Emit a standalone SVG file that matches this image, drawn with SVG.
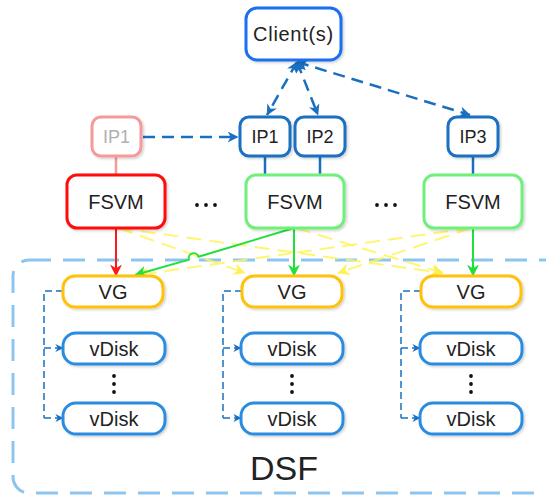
<svg xmlns="http://www.w3.org/2000/svg" width="546" height="497" viewBox="0 0 546 497">
<style>
  .t{font-family:"Liberation Sans",Arial,sans-serif;font-size:20px;fill:#222;text-anchor:middle}
  .box{fill:#fff;stroke-width:3;filter:url(#sh)}
  .blue{stroke:#1a6fc0}
  .vg{stroke:#ffc107}
  .vd{stroke:#2b8ce0}
  .gr{stroke:#6ff07a}
  .dash{fill:none;stroke:#1a6fc0;stroke-width:2.5;stroke-dasharray:12 7}
  .vdl{fill:none;stroke:#1a6fc0;stroke-width:1.5;stroke-dasharray:7 4}
  .yl{fill:none;stroke:#fff35a;stroke-opacity:.85;stroke-width:2;stroke-dasharray:15 8}
  .dot{fill:#111}
</style>
<defs>
  <filter id="sh" x="-10%" y="-10%" width="130%" height="140%">
    <feDropShadow dx="1.5" dy="1.5" stdDeviation="1" flood-color="#000" flood-opacity="0.18"/>
  </filter>
  <marker id="ab" viewBox="0 0 10 10" refX="9.5" refY="5" markerWidth="11" markerHeight="11" orient="auto-start-reverse" markerUnits="userSpaceOnUse"><path d="M0,0 L10,5 L0,10 L3,5z" fill="#1a6fc0"/></marker>
  <marker id="as" viewBox="0 0 10 10" refX="9.5" refY="5" markerWidth="8" markerHeight="8" orient="auto" markerUnits="userSpaceOnUse"><path d="M0,0 L10,5 L0,10 L3,5z" fill="#1a6fc0"/></marker>
  <marker id="ar" viewBox="0 0 10 10" refX="9.5" refY="5" markerWidth="12" markerHeight="12" orient="auto" markerUnits="userSpaceOnUse"><path d="M0,0 L10,5 L0,10 L3,5z" fill="#ff1a1a"/></marker>
  <marker id="ag" viewBox="0 0 10 10" refX="9.5" refY="5" markerWidth="12" markerHeight="12" orient="auto" markerUnits="userSpaceOnUse"><path d="M0,0 L10,5 L0,10 L3,5z" fill="#22e03a"/></marker>
  <marker id="ay" viewBox="0 0 10 10" refX="9.5" refY="5" markerWidth="12" markerHeight="12" orient="auto" markerUnits="userSpaceOnUse"><path d="M0,0 L10,5 L0,10 L3,5z" fill="#fff04a" fill-opacity=".9"/></marker>
</defs>

<g id="dsf">
  <rect x="13" y="260" width="550" height="233" rx="16" fill="none" stroke="#8ec5ef" stroke-width="3" stroke-dasharray="22 12"/>
  <text x="284" y="480" class="t" style="font-size:34px">DSF</text>
</g>

<g id="connectors">
  <line x1="297" y1="62" x2="267" y2="115" class="dash" marker-start="url(#ab)" marker-end="url(#ab)"/>
  <line x1="297" y1="62" x2="318" y2="115" class="dash" marker-start="url(#ab)" marker-end="url(#ab)"/>
  <line x1="297" y1="62" x2="470" y2="115" class="dash" marker-start="url(#ab)" marker-end="url(#ab)"/>
  <line x1="143" y1="137" x2="238" y2="137" class="dash" marker-end="url(#ab)"/>
  <line x1="116" y1="157" x2="116" y2="175" stroke="#f59a9a" stroke-width="2.5"/>
  <line x1="265" y1="156" x2="265" y2="175" stroke="#1a6fc0" stroke-width="2.5"/>
  <line x1="320" y1="156" x2="320" y2="175" stroke="#1a6fc0" stroke-width="2.5"/>
  <line x1="473" y1="156" x2="473" y2="175" stroke="#1a6fc0" stroke-width="2.5"/>
  <path d="M118,228 L245,273" class="yl" marker-end="url(#ay)"/>
  <path d="M118,228 L443,273" class="yl" marker-end="url(#ay)"/>
  <path d="M296,228 L443,273" class="yl" marker-end="url(#ay)"/>
  <path d="M471,228 L338,273" class="yl" marker-end="url(#ay)"/>
  <path d="M471,228 L298,252.4 A4,4 0 0 0 290,253.5 L137,275" class="yl" marker-end="url(#ay)"/>
  <line x1="116" y1="228" x2="116" y2="276" stroke="#ff1a1a" stroke-width="2" marker-end="url(#ar)"/>
  <line x1="294" y1="228" x2="294" y2="276" stroke="#22e03a" stroke-width="2" marker-end="url(#ag)"/>
  <line x1="473" y1="228" x2="473" y2="276" stroke="#22e03a" stroke-width="2" marker-end="url(#ag)"/>
  <path d="M294,228 L198.5,256.8 A5,5 0 0 0 188.9,259.6 L135,275" fill="none" stroke="#22e03a" stroke-width="2" marker-end="url(#ag)"/>
  <path d="M63,291 H44 V418" class="vdl"/>
  <path d="M44,348 H63" class="vdl" marker-end="url(#as)"/>
  <path d="M44,418 H63" class="vdl" marker-end="url(#as)"/>
  <path d="M242,291 H223 V418" class="vdl"/>
  <path d="M223,348 H241" class="vdl" marker-end="url(#as)"/>
  <path d="M223,418 H241" class="vdl" marker-end="url(#as)"/>
  <path d="M421,291 H401 V418" class="vdl"/>
  <path d="M401,348 H420" class="vdl" marker-end="url(#as)"/>
  <path d="M401,418 H420" class="vdl" marker-end="url(#as)"/>
</g>

<g id="client">
  <rect x="246" y="8" width="95" height="52" rx="11" class="box" stroke="#1a6ff0"/>
  <text x="293.5" y="41" class="t" style="letter-spacing:0.7px">Client(s)</text>
</g>

<g id="ip1-old">
  <rect x="92" y="117" width="49" height="39" rx="9" class="box" stroke="#f59a9a"/>
  <text x="116.5" y="143" class="t" style="font-size:18px;fill:#b0b0b0">IP1</text>
</g>
<g id="ip1">
  <rect x="240" y="117" width="50" height="39" rx="9" class="box blue"/>
  <text x="265" y="143" class="t" style="font-size:18px">IP1</text>
</g>
<g id="ip2">
  <rect x="295" y="117" width="50" height="39" rx="9" class="box blue"/>
  <text x="320" y="143" class="t" style="font-size:18px">IP2</text>
</g>
<g id="ip3">
  <rect x="448" y="117" width="50" height="39" rx="9" class="box blue"/>
  <text x="473" y="143" class="t" style="font-size:18px">IP3</text>
</g>

<g id="fsvm1">
  <rect x="67" y="175" width="98" height="53" rx="10" class="box" stroke="#ff0d0d"/>
  <text x="116" y="208.5" class="t">FSVM</text>
</g>
<g id="fsvm2">
  <rect x="246" y="175" width="98" height="53" rx="10" class="box gr"/>
  <text x="295" y="208.5" class="t">FSVM</text>
</g>
<g id="fsvm3">
  <rect x="424" y="175" width="98" height="53" rx="10" class="box gr"/>
  <text x="473" y="208.5" class="t">FSVM</text>
</g>
<g id="ellipsis1">
  <circle cx="197" cy="205" r="1.9" class="dot"/><circle cx="206" cy="205" r="1.9" class="dot"/><circle cx="215" cy="205" r="1.9" class="dot"/>
</g>
<g id="ellipsis2">
  <circle cx="377" cy="205" r="1.9" class="dot"/><circle cx="386" cy="205" r="1.9" class="dot"/><circle cx="395" cy="205" r="1.9" class="dot"/>
</g>

<g id="vg1">
  <rect x="63" y="276" width="100" height="31" rx="12" class="box vg"/>
  <text x="113" y="298.5" class="t">VG</text>
</g>
<g id="vg2">
  <rect x="242" y="276" width="100" height="31" rx="12" class="box vg"/>
  <text x="292" y="298.5" class="t">VG</text>
</g>
<g id="vg3">
  <rect x="421" y="276" width="100" height="31" rx="12" class="box vg"/>
  <text x="471" y="298.5" class="t">VG</text>
</g>

<g id="vdisk1a">
  <rect x="63" y="333" width="102" height="31" rx="13" class="box vd"/>
  <text x="114" y="355.5" class="t">vDisk</text>
</g>
<g id="vdisk1b">
  <rect x="63" y="403" width="102" height="31" rx="13" class="box vd"/>
  <text x="114" y="425.5" class="t">vDisk</text>
</g>
<g id="vdisk2a">
  <rect x="241" y="333" width="102" height="31" rx="13" class="box vd"/>
  <text x="292" y="355.5" class="t">vDisk</text>
</g>
<g id="vdisk2b">
  <rect x="241" y="403" width="102" height="31" rx="13" class="box vd"/>
  <text x="292" y="425.5" class="t">vDisk</text>
</g>
<g id="vdisk3a">
  <rect x="420" y="333" width="102" height="31" rx="13" class="box vd"/>
  <text x="471" y="355.5" class="t">vDisk</text>
</g>
<g id="vdisk3b">
  <rect x="420" y="403" width="102" height="31" rx="13" class="box vd"/>
  <text x="471" y="425.5" class="t">vDisk</text>
</g>
<g id="vdots">
  <circle cx="114" cy="376" r="1.9" class="dot"/><circle cx="114" cy="384" r="1.9" class="dot"/><circle cx="114" cy="392" r="1.9" class="dot"/>
  <circle cx="292" cy="376" r="1.9" class="dot"/><circle cx="292" cy="384" r="1.9" class="dot"/><circle cx="292" cy="392" r="1.9" class="dot"/>
  <circle cx="471" cy="376" r="1.9" class="dot"/><circle cx="471" cy="384" r="1.9" class="dot"/><circle cx="471" cy="392" r="1.9" class="dot"/>
</g>
</svg>
